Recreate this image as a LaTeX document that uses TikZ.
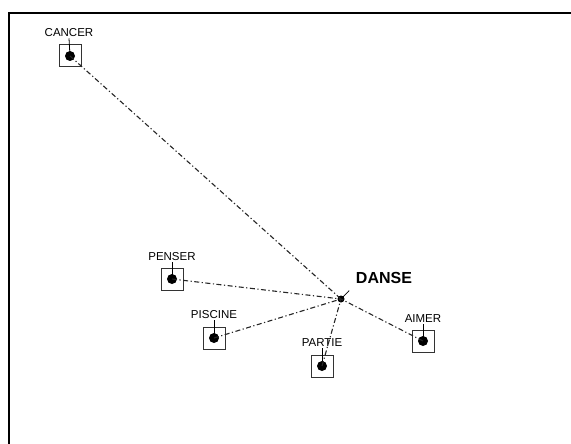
\documentclass[tikz,border=0pt]{standalone}
\usepackage{fontspec}
\setmainfont{Liberation Sans}

\tikzset{
    wordbox/.style={draw=black!80, line width=1pt, minimum size=22pt, inner sep=0pt},
    worddot/.style={circle, fill=black, minimum size=10pt, inner sep=0pt},
    wordlbl/.style={font=\fontsize{11.5}{12}\selectfont, inner sep=1pt},
    link/.style={black!85, line width=1.1pt, dash pattern=on 5pt off 2.5pt on 1.2pt off 2.5pt},
    pin/.style={black, line width=0.8pt}
}

\begin{document}
\begin{tikzpicture}[x=1pt, y=-1pt]
    \useasboundingbox (0,0) rectangle (571,444);
    % frame
    \draw [black, line width=2.5pt] (9,444) -- (9,13) -- (571,13);
    % centre word
    \node [circle, fill=black, minimum size=7pt, inner sep=0pt] (danse) at (341,299) {};
    \node [font=\bfseries\fontsize{16}{18}\selectfont, inner sep=1pt] (dansel) at (384,278) {DANSE};
    \draw [pin, shorten >=8pt] (danse.center) -- (dansel.south west);
    % words
    \node [wordbox] (cancer) at (70,56) {};
    \node [worddot] (cancerd) at (70,56) {};
    \node [wordlbl] (cancerl) at (69,33) {CANCER};
    \node [wordbox] (penser) at (172,279) {};
    \node [worddot] (pen) at (172,279) {};
    \node [wordlbl] (penserl) at (172,257) {PENSER};
    \node [wordbox] (piscine) at (214,338) {};
    \node [worddot] (piscined) at (214,338) {};
    \node [wordlbl] (piscinel) at (214,315) {PISCINE};
    \node [wordbox] (partie) at (322,366) {};
    \node [worddot] (partied) at (322,366) {};
    \node [wordlbl] (partiel) at (322,343) {PARTIE};
    \node [wordbox] (aimer) at (423,341) {};
    \node [worddot] (aimerd) at (423,341) {};
    \node [wordlbl] (aimerl) at (423,319) {AIMER};
    % pins from labels
    \draw [pin] (cancerl.south) -- (cancerd.center);
    \draw [pin] (penserl.south) -- (pen.center);
    \draw [pin] (piscinel.south) -- (piscined.center);
    \draw [pin] (partiel.south) -- (partied.center);
    \draw [pin] (aimerl.south) -- (aimerd.center);
    % links to DANSE
    \draw [link] (cancerd.center) -- (danse.center);
    \draw [link] (pen.center) -- (danse.center);
    \draw [link] (piscined.center) -- (danse.center);
    \draw [link] (partied.center) -- (danse.center);
    \draw [link] (aimerd.center) -- (danse.center);
\end{tikzpicture}
\end{document}
